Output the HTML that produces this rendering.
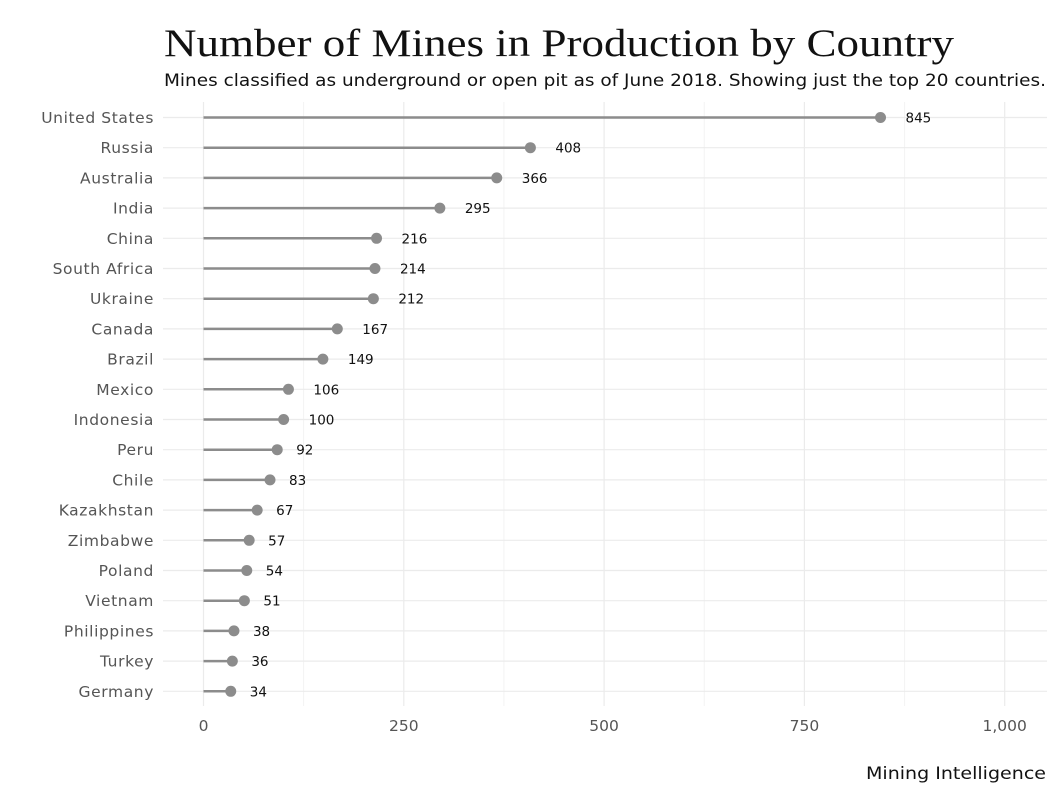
<!DOCTYPE html>
<html><head><meta charset="utf-8"><style>
body{margin:0;background:#fff;width:1058px;height:794px;overflow:hidden;font-family:"DejaVu Sans","Liberation Sans",sans-serif}
</style></head><body>
<svg id="c" width="1058" height="794">
<text x="164" y="56" font-family="Liberation Serif, serif" font-size="39" fill="#111" textLength="790" lengthAdjust="spacingAndGlyphs">Number of Mines in Production by Country</text>
<text x="164" y="86" font-size="16.5" fill="#111" textLength="882" lengthAdjust="spacingAndGlyphs">Mines classified as underground or open pit as of June 2018. Showing just the top 20 countries.</text>
<text x="1046" y="779" text-anchor="end" font-size="16.5" fill="#111" textLength="180" lengthAdjust="spacingAndGlyphs">Mining Intelligence</text>
<g id="grid"></g><g id="marks"></g>
</svg>
<script>
const countries=["United States","Russia","Australia","India","China","South Africa","Ukraine","Canada","Brazil","Mexico","Indonesia","Peru","Chile","Kazakhstan","Zimbabwe","Poland","Vietnam","Philippines","Turkey","Germany"];
const mines=[845,408,366,295,216,214,212,167,149,106,100,92,83,67,57,54,51,38,36,34];
const xTicks=[0,250,500,750,1000];
const xTickLabels=["0","250","500","750","1,000"];
const NS="http://www.w3.org/2000/svg";
const x=v=>203.5+v*0.8012;
const y=i=>117.5+i*30.2;
function mk(t,a,p){const e=document.createElementNS(NS,t);for(const k in a)e.setAttribute(k,a[k]);p.appendChild(e);return e;}
const g=document.getElementById('grid'),m=document.getElementById('marks');
for(let i=0;i<xTicks.length-1;i++){const v=(xTicks[i]+xTicks[i+1])/2;
 const l=mk('line',{x1:x(v),x2:x(v),y1:102,y2:706,stroke:'#f3f3f3','stroke-width':1},g);
 }
xTicks.forEach((v,i)=>{
 const l=mk('line',{x1:x(v),x2:x(v),y1:102,y2:706,stroke:'#ebebeb','stroke-width':1.2},g);
 
 const t=mk('text',{x:x(v),y:731,'text-anchor':'middle','font-size':15.5,fill:'#555'},g);t.textContent=xTickLabels[i];
 
});
countries.forEach((c,i)=>{
 const gl=mk('line',{x1:163,x2:1047,y1:y(i),y2:y(i),stroke:'#ebebeb','stroke-width':1.2},g);
 
 const t=mk('text',{x:154,y:y(i)+5.5,'text-anchor':'end','font-size':15.5,'letter-spacing':0.6,fill:'#555'},g);t.textContent=c;
 
 const s=mk('line',{x1:x(0),x2:x(mines[i]),y1:y(i),y2:y(i),stroke:'#8c8c8c','stroke-width':2.5},m);
 
 const d=mk('circle',{cx:x(mines[i]),cy:y(i),r:5.5,fill:'#8c8c8c'},m);
 
 const off=mines[i]>=100?25:19;
 const v=mk('text',{x:x(mines[i])+off,y:y(i)+5,'font-size':13.5,fill:'#111'},m);v.textContent=mines[i];
 
});
</script>
</body></html>
